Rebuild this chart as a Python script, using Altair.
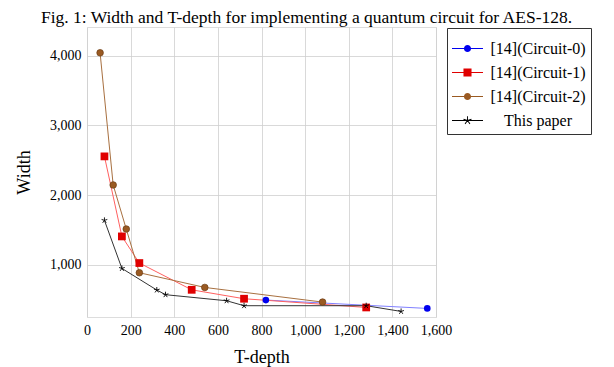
import altair as alt
import pandas as pd
import math

# ---- data ----
series_names = ["[14](Circuit-0)", "[14](Circuit-1)", "[14](Circuit-2)", "This paper"]

c0_depth = [820, 1560]
c0_width = [493, 373]

c1_depth = [80, 160, 240, 480, 720, 1280]
c1_width = [2554, 1406, 1024, 640, 512, 387]

c2_depth = [60, 120, 180, 240, 540, 1080]
c2_width = [4040, 2144, 1512, 885, 674, 464]

tp_depth = [80, 160, 320, 360, 640, 720, 1280, 1440]
tp_width = [1636, 947, 637, 570, 483, 412, 412, 330]

x_ticks = [0, 200, 400, 600, 800, 1000, 1200, 1400, 1600]
y_ticks = [1000, 2000, 3000, 4000]

marker_colors = ["#0000ee", "#e00000", "#9a5a22", "#000000"]
line_colors = ["#8080ff", "#ff6060", "#a87040", "#333333"]

rows = []
for name, xs, ys in zip(series_names,
                        [c0_depth, c1_depth, c2_depth, tp_depth],
                        [c0_width, c1_width, c2_width, tp_width]):
    for xv, yv in zip(xs, ys):
        rows.append({"series": name, "depth": xv, "width": yv})
df = pd.DataFrame(rows)

FONT = "Liberation Serif"

x_enc = alt.X("depth:Q", scale=alt.Scale(domain=[0, 1600], nice=False, zero=False),
              axis=alt.Axis(values=x_ticks, format=",.0f", title="T-depth",
                            grid=True, gridColor="#cfcfcf", gridWidth=0.8,
                            tickSize=0, domain=False, labelPadding=6,
                            labelOverlap=False, labelFlush=False,
                            labelFont=FONT, labelFontSize=14, labelColor="black",
                            titleFont=FONT, titleFontSize=18, titleFontWeight="normal",
                            titleColor="black", titleY=45, titleBaseline="alphabetic"))
y_enc = alt.Y("width:Q", scale=alt.Scale(domain=[250, 4410], nice=False, zero=False),
              axis=alt.Axis(values=y_ticks, format=",.0f", title="Width",
                            grid=True, gridColor="#cfcfcf", gridWidth=0.8,
                            tickSize=0, domain=False, labelPadding=6,
                            labelOverlap=False, labelFlush=False,
                            labelFont=FONT, labelFontSize=14, labelColor="black",
                            titleFont=FONT, titleFontSize=18, titleFontWeight="normal",
                            titleColor="black", titleX=-63, titleY=145,
                            titleBaseline="middle"))

base = alt.Chart(df)

star_path = ("M0,0 L0,-1 M0,0 L-0.951,-0.309 M0,0 L-0.588,0.809 "
             "M0,0 L0.588,0.809 M0,0 L0.951,-0.309")

layers = []
for i, name in enumerate(series_names):
    sub = base.transform_filter(alt.datum.series == name)
    layers.append(sub.mark_line(strokeWidth=1, color=line_colors[i]).encode(x=x_enc, y=y_enc))
for i, name in enumerate(series_names):
    sub = base.transform_filter(alt.datum.series == name)
    if i == 1:
        m = sub.mark_square(size=60, opacity=1, color=marker_colors[i])
    elif i == 3:
        m = sub.mark_point(shape=star_path, size=36, filled=False, strokeWidth=0.9,
                           opacity=1, color=marker_colors[i])
    elif i == 2:
        m = sub.mark_circle(size=44, opacity=1, fill=marker_colors[i],
                            stroke="#6b3c14", strokeWidth=0.7)
    else:
        m = sub.mark_circle(size=44, opacity=1, color=marker_colors[i])
    layers.append(m.encode(x=x_enc, y=y_enc))

# legend symbols: line + marker in unit coordinates
line_part = "M-1,-0.035 L1,-0.035 L1,0.035 L-1,0.035 Z "
circ = "M0.23,0 A0.23,0.23 0 1,1 -0.23,0 A0.23,0.23 0 1,1 0.23,0 Z"
sq = "M-0.26,-0.26 L0.26,-0.26 L0.26,0.26 L-0.26,0.26 Z"
arms = []
for k in range(5):
    a = math.radians(90 + 72 * k)
    ex, ey = 0.27 * math.cos(a), -0.27 * math.sin(a)
    nx, ny = -math.sin(a) * 0.03, -math.cos(a) * 0.03
    arms.append(f"M{nx:.3f},{ny:.3f} L{ex+nx:.3f},{ey+ny:.3f} L{ex-nx:.3f},{ey-ny:.3f} L{-nx:.3f},{-ny:.3f} Z")
star_leg = " ".join(arms)
legend_shapes = [line_part + circ, line_part + sq, line_part + circ, line_part + star_leg]

leg = alt.Legend(title=None, orient="none", legendX=360, legendY=1,
                 labelFont=FONT, labelFontSize=16, labelColor="black",
                 symbolSize=961, symbolStrokeWidth=0,
                 labelAlign="center", labelOffset=55,
                 rowPadding=0, padding=5,
                 strokeColor="#333333", fillColor="white", labelLimit=300)

legend_layer = base.mark_point(filled=True, opacity=1, size=0).encode(
    x=x_enc, y=y_enc,
    color=alt.Color("series:N", scale=alt.Scale(domain=series_names, range=marker_colors),
                    legend=leg),
    shape=alt.Shape("series:N", scale=alt.Scale(domain=series_names, range=legend_shapes),
                    legend=leg),
)
layers.append(legend_layer)

chart = alt.layer(*layers).properties(
    width=349, height=290,
    title=alt.TitleParams(
        "Fig. 1: Width and T-depth for implementing a quantum circuit for AES-128.",
        anchor="middle", frame="group", dx=45, dy=19, offset=6, baseline="alphabetic",
        font=FONT, fontSize=17.5, fontWeight="normal", color="black"),
    autosize=alt.AutoSizeParams(type="none"),
    padding={"left": 79, "top": 19, "right": 170, "bottom": 50},
).configure_view(stroke="black", strokeWidth=1).configure(background="white")

chart.save("out.html", embed_options={"renderer": "svg", "actions": False})
